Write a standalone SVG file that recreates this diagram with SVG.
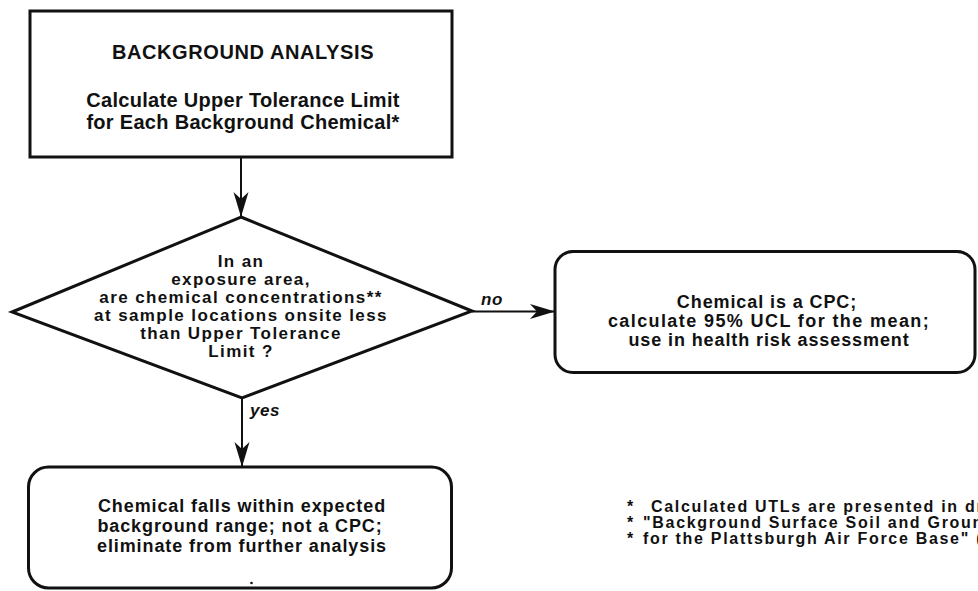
<svg xmlns="http://www.w3.org/2000/svg" width="978" height="591" viewBox="0 0 978 591">
  <defs>
    <marker id="arrow" viewBox="-26 -8 27 16" refX="0" refY="0" markerWidth="27" markerHeight="16" markerUnits="userSpaceOnUse" orient="auto">
      <path d="M0,0 L-25,-7.5 L-18,0 L-25,7.5 Z" fill="#111"/>
    </marker>
    <style>
      .box { fill: #fff; stroke: #111; stroke-width: 3; }
      .edge { fill: none; stroke: #111; stroke-width: 2; marker-end: url(#arrow); }
      text { font-family: "Liberation Sans", Arial, Helvetica, sans-serif; font-weight: bold; fill: #111; text-anchor: middle; }
      .title { font-size: 20px; letter-spacing: 0.6px; }
      .sub { font-size: 20px; letter-spacing: 0.3px; }
      .body { font-size: 18px; letter-spacing: 0.9px; }
      .q { font-size: 17px; letter-spacing: 1.4px; }
      .lbl { font-size: 17px; font-style: italic; text-anchor: start; letter-spacing: 0.5px; }
      .note { font-size: 16px; letter-spacing: 1.7px; text-anchor: start; }
    </style>
  </defs>
  <rect width="978" height="591" fill="#fff"/>

  <!-- connectors -->
  <g id="connectors">
    <line class="edge" x1="241" y1="157" x2="241" y2="217"/>
    <line class="edge" x1="472" y1="311.5" x2="555" y2="311.5"/>
    <line class="edge" x1="242" y1="398" x2="242" y2="467"/>
    <text class="lbl" x="481" y="305">no</text>
    <text class="lbl" x="250" y="416">yes</text>
  </g>

  <!-- background analysis step -->
  <g id="background-analysis">
    <rect class="box" x="30" y="11" width="422" height="146"/>
    <text class="title" x="243" y="59">BACKGROUND ANALYSIS</text>
    <text class="sub" x="243" y="107">Calculate Upper Tolerance Limit</text>
    <text class="sub" x="243" y="129">for Each Background Chemical*</text>
  </g>

  <!-- decision -->
  <g id="utl-decision">
    <polygon class="box" points="241,217 472,311 242,398 12,312"/>
    <text class="q" x="241" y="267">In an</text>
    <text class="q" x="241" y="285">exposure area,</text>
    <text class="q" x="241" y="303">are chemical concentrations**</text>
    <text class="q" x="241" y="321">at sample locations onsite less</text>
    <text class="q" x="241" y="339">than Upper Tolerance</text>
    <text class="q" x="241" y="357">Limit ?</text>
  </g>

  <!-- "no" outcome -->
  <g id="cpc-outcome">
    <rect class="box" x="555" y="251.5" width="420" height="121" rx="18" ry="18"/>
    <text class="body" x="767" y="308">Chemical is a CPC;</text>
    <text class="body" x="769" y="327" style="letter-spacing:1.4px">calculate 95% UCL for the mean;</text>
    <text class="body" x="769" y="346">use in health risk assessment</text>
  </g>

  <!-- "yes" outcome -->
  <g id="not-cpc-outcome">
    <rect class="box" x="28.5" y="467" width="423" height="121" rx="20" ry="20"/>
    <text class="body" x="242" y="512">Chemical falls within expected</text>
    <text class="body" x="240" y="532">background range; not a CPC;</text>
    <text class="body" x="242" y="552">eliminate from further analysis</text>
    <circle cx="251.5" cy="583" r="1.3" fill="#111"/>
  </g>

  <!-- footnotes -->
  <g id="footnotes">
    <text class="note" x="627" y="512">* <tspan x="651">Calculated UTLs are presented in dra</tspan></text>
    <text class="note" x="627" y="528">* <tspan x="643">"Background Surface Soil and Groun</tspan></text>
    <text class="note" x="627" y="544">* <tspan x="643">for the Plattsburgh Air Force Base" (U</tspan></text>
  </g>
</svg>
